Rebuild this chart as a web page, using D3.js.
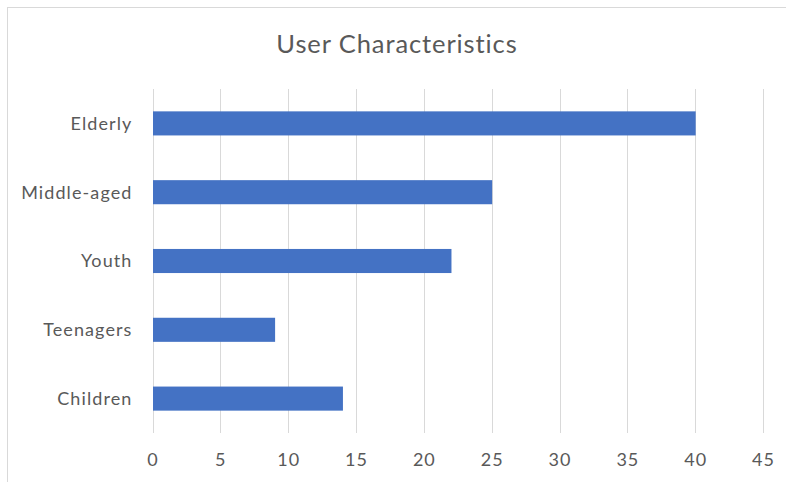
<!DOCTYPE html>
<html>
<head>
<meta charset="utf-8">
<script src="https://cdn.jsdelivr.net/npm/d3@7"></script>
<style>
  html, body { margin: 0; padding: 0; background: #fff; }
  svg { display: block; }
</style>
</head>
<body>
<svg id="chart" width="786" height="482"></svg>
<script>
// User groups, listed top to bottom
const categories = ["Elderly", "Middle-aged", "Youth", "Teenagers", "Children"];
const values = [40, 25, 22, 9, 14];
const xTicks = [0, 5, 10, 15, 20, 25, 30, 35, 40, 45];
const title = "User Characteristics";

const svg = d3.select("#chart");
const font = "Lato, 'Open Sans', sans-serif";
const textColor = "#595959";

// chart frame
svg.append("rect")
  .attr("x", 7.5).attr("y", 7.5)
  .attr("width", 820).attr("height", 500)
  .attr("fill", "#fff")
  .attr("stroke", "#d9d9d9")
  .attr("stroke-width", 1);

const plot = { left: 152.5, right: 763, top: 89, bottom: 433 };

const x = d3.scaleLinear().domain([0, 45]).range([plot.left, plot.right]);
const y = d3.scaleBand().domain(categories)
  .range([plot.top, plot.bottom])
  .paddingInner(0.65).paddingOuter(0.325);

// vertical gridlines
svg.append("g")
  .selectAll("line")
  .data(xTicks)
  .join("line")
  .attr("x1", d => Math.round(x(d)) + 0.5)
  .attr("x2", d => Math.round(x(d)) + 0.5)
  .attr("y1", plot.top)
  .attr("y2", plot.bottom)
  .attr("stroke", "#d9d9d9")
  .attr("stroke-width", 1);

// bars
svg.append("g")
  .selectAll("rect")
  .data(categories.map((c, i) => ({ c, v: values[i] })))
  .join("rect")
  .attr("x", x(0) + 0.5)
  .attr("y", d => y(d.c))
  .attr("width", d => x(d.v) - x(0))
  .attr("height", y.bandwidth())
  .attr("fill", "#4472c4");

// x axis labels
const xAxis = d3.axisBottom(x).tickValues(xTicks).tickSize(0).tickPadding(0);
const gx = svg.append("g")
  .attr("transform", `translate(0, 466)`)
  .call(xAxis);
gx.select(".domain").remove();
gx.selectAll("text")
  .attr("dy", 0)
  .attr("fill", textColor)
  .attr("font-family", font)
  .attr("font-size", 18)
  .attr("letter-spacing", 1);

// category labels
const yAxis = d3.axisLeft(y).tickSize(0).tickPadding(0);
const gy = svg.append("g")
  .attr("transform", `translate(132.5, 0)`)
  .call(yAxis);
gy.select(".domain").remove();
gy.selectAll("text")
  .attr("dy", "0.35em")
  .attr("fill", textColor)
  .attr("font-family", font)
  .attr("font-size", 18)
  .attr("letter-spacing", 1.1);

// title
svg.append("text")
  .attr("x", 397)
  .attr("y", 53)
  .attr("text-anchor", "middle")
  .attr("fill", textColor)
  .attr("font-family", font)
  .attr("font-size", 25.5)
  .attr("letter-spacing", 0.9)
  .text(title);
</script>
</body>
</html>
